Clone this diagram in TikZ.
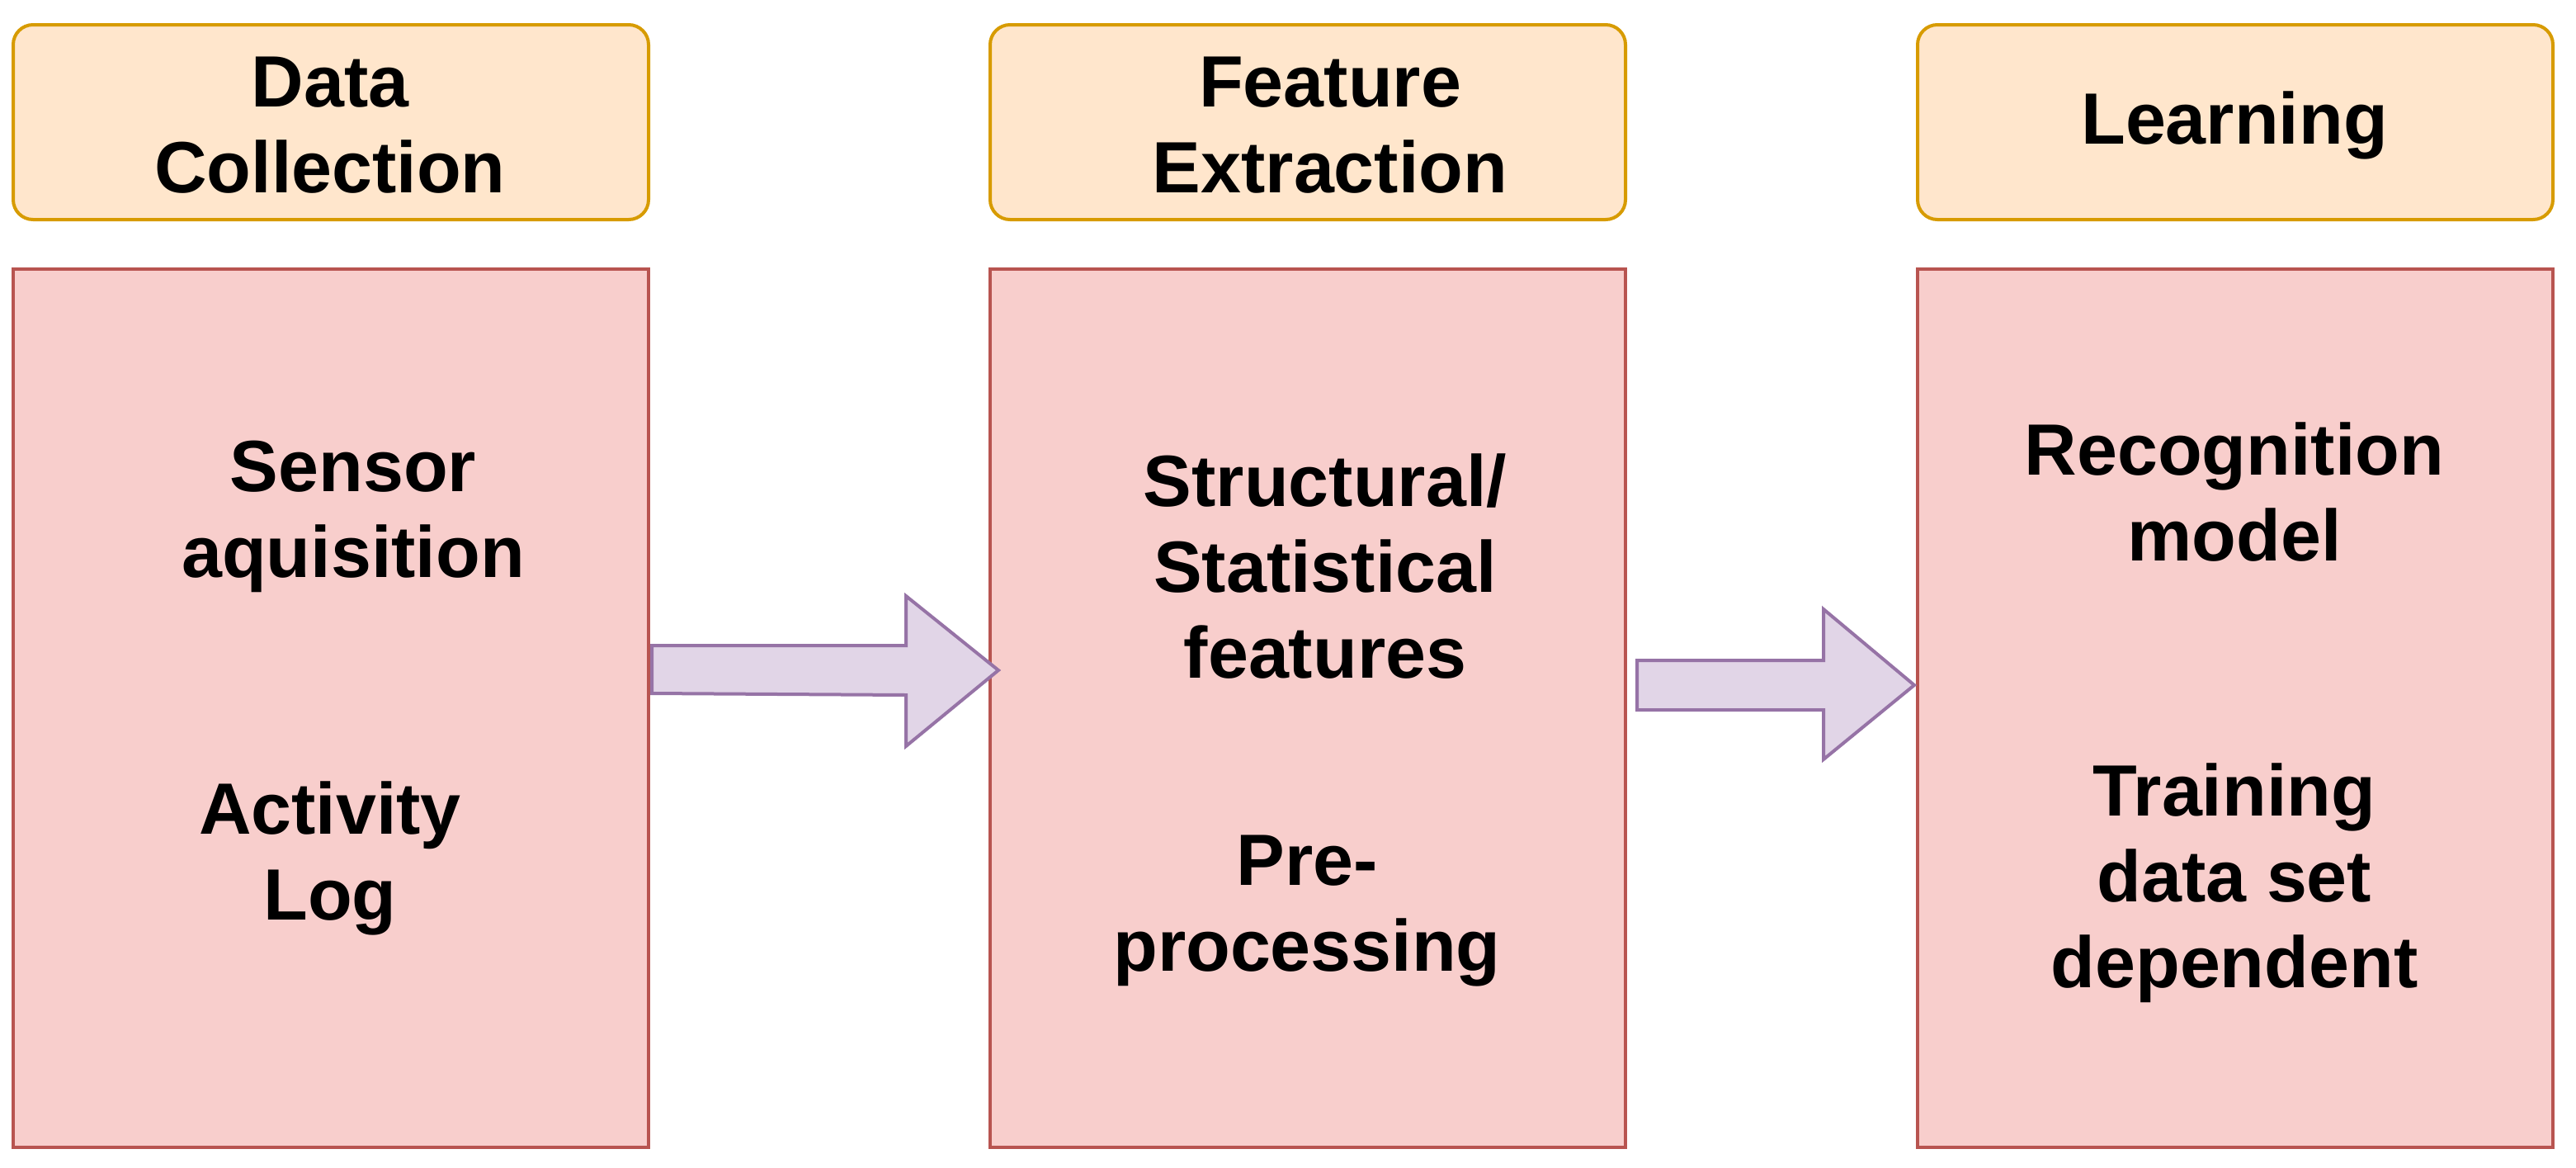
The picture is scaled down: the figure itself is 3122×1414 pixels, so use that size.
\documentclass[tikz,border=0pt]{standalone}
\usepackage{fontspec}
\setmainfont{Liberation Sans}
\begin{document}
\begin{tikzpicture}[x=1pt,y=-1pt,
  hdr/.style={draw=hdrline,fill=hdrfill,line width=4pt,rounded corners=24pt},
  box/.style={draw=boxline,fill=boxfill,line width=4pt},
  arr/.style={draw=arrline,fill=arrfill,line width=4pt,line join=miter},
  txt/.style={align=center,font=\fontsize{88}{104}\selectfont\bfseries,inner sep=0pt}]
\definecolor{hdrfill}{HTML}{FFE6CC}\definecolor{hdrline}{HTML}{D79B00}
\definecolor{boxfill}{HTML}{F8CECC}\definecolor{boxline}{HTML}{B85450}
\definecolor{arrfill}{HTML}{E1D5E7}\definecolor{arrline}{HTML}{9673A6}
\useasboundingbox (0,0) rectangle (3122,1414);
% headers
\draw[hdr] (16,30) rectangle (786,266);
\draw[hdr] (1200,30) rectangle (1970,266);
\draw[hdr] (2324,30) rectangle (3094,266);
\node[txt] (h1) at (400,152) {Data\\Collection};
\node[txt] (h2) at (1612,152) {Feature\\Extraction};
\node[txt] (h3) at (2708,152) {Learning};
% boxes
\draw[box] (16,326) rectangle (786,1390);
\draw[box] (1200,326) rectangle (1970,1390);
\draw[box] (2324,326) rectangle (3094,1390);
\node[txt] (a1) at (428,626) {Sensor\\aquisition};
\node[txt] (a2) at (400,1040) {Activity\\Log};
\node[txt] (b1) at (1606,686) {Structural/\\Statistical\\features};
\node[txt] (b2) at (1584,1104) {Pre-\\processing};
\node[txt] (c1) at (2708,596) {Recognition\\model};
\node[txt] (c2) at (2708,1070) {Training\\data set\\dependent};
% block arrows
\draw[arr] (790,782) -- (1098,782) -- (1098,722) -- (1210,812) -- (1098,904) -- (1098,842) -- (790,840) -- cycle;
\draw[arr] (1984,800) -- (2210,800) -- (2210,738) -- (2320,830) -- (2210,920) -- (2210,860) -- (1984,860) -- cycle;
\end{tikzpicture}
\end{document}
